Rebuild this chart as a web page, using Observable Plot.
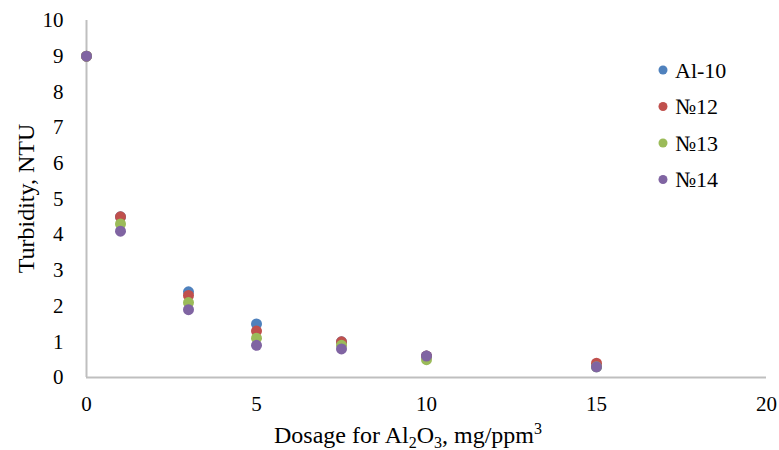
<!DOCTYPE html>
<html>
<head>
<meta charset="utf-8">
<script src="https://cdn.jsdelivr.net/npm/d3@7"></script>
<script src="https://cdn.jsdelivr.net/npm/@observablehq/plot@0.6"></script>
<style>
  html, body { margin: 0; padding: 0; background: #fff; }
  #chart { width: 779px; height: 450px; }
  #chart svg, #chart svg text { font-family: "Liberation Serif", "Times New Roman", serif !important; }
</style>
</head>
<body>
<div id="chart"></div>
<script>
// Coagulant dosage (mg/ppm³) and residual turbidity (NTU) for each sample
const dosage = [0, 1, 3, 5, 7.5, 10, 15];
const al10 = [9, 4.5, 2.4, 1.5, 1.0, 0.6, 0.3];
const n12  = [9, 4.5, 2.3, 1.3, 1.0, 0.6, 0.4];
const n13  = [9, 4.3, 2.1, 1.1, 0.9, 0.5, 0.3];
const n14  = [9, 4.1, 1.9, 0.9, 0.8, 0.6, 0.3];

const seriesNames = ["Al-10", "№12", "№13", "№14"];
const seriesValues = [al10, n12, n13, n14];
const seriesColors = ["#4f81bd", "#c0504d", "#9bbb59", "#8064a2"];

const xTicks = [0, 5, 10, 15, 20];
const yTicks = [0, 1, 2, 3, 4, 5, 6, 7, 8, 9, 10];

const rows = seriesNames.flatMap((name, i) =>
  dosage.map((d, j) => ({ series: name, dose: d, turbidity: seriesValues[i][j] }))
);

const W = 779, H = 450;
const margin = { top: 20, right: 13, bottom: 73, left: 86 };
const serif = "Liberation Serif";
const fs = 21;

const plot = Plot.plot({
  width: W,
  height: H,
  marginTop: margin.top,
  marginRight: margin.right,
  marginBottom: margin.bottom,
  marginLeft: margin.left,
  style: { fontFamily: serif, fontSize: fs + "px", color: "#000", background: "#fff" },
  x: { domain: [0, 20], ticks: xTicks, label: null },
  y: { domain: [0, 10], ticks: yTicks, label: null },
  color: { domain: seriesNames, range: seriesColors },
  marks: [
    Plot.axisX({ ticks: xTicks, tickSize: 0, tickPadding: 19, fontSize: fs, fontFamily: serif, fill: "#000", label: null }),
    Plot.axisY({ ticks: yTicks, tickSize: 0, tickPadding: 23, fontSize: fs, fontFamily: serif, fill: "#000", label: null }),
    Plot.ruleX([0], { stroke: "#bfbfbf", strokeWidth: 2 }),
    Plot.ruleY([0], { stroke: "#bfbfbf", strokeWidth: 2 }),
    Plot.dot(rows, { x: "dose", y: "turbidity", fill: "series", r: 5.5, stroke: "none" })
  ]
});

document.getElementById("chart").appendChild(plot);

// Axis titles and legend drawn into the same SVG
const svg = d3.select(plot);

svg.append("text")
  .attr("transform", `translate(34, ${(margin.top + H - margin.bottom) / 2}) rotate(-90)`)
  .attr("text-anchor", "middle")
  .attr("font-size", 24)
  .attr("fill", "#000")
  .text("Turbidity, NTU");

const xTitle = svg.append("text")
  .attr("x", 408)
  .attr("y", 443)
  .attr("text-anchor", "middle")
  .attr("font-size", 24)
  .attr("fill", "#000");
xTitle.append("tspan").text("Dosage for Al");
xTitle.append("tspan").attr("font-size", 16).attr("dy", 5).text("2");
xTitle.append("tspan").attr("dy", -5).text("O");
xTitle.append("tspan").attr("font-size", 16).attr("dy", 5).text("3");
xTitle.append("tspan").attr("dy", -5).text(", mg/ppm");
xTitle.append("tspan").attr("font-size", 16).attr("dy", -9).text("3");

const legend = svg.append("g").attr("transform", "translate(663, 70)");
seriesNames.forEach((name, i) => {
  const g = legend.append("g").attr("transform", `translate(0, ${i * 36.5})`);
  g.append("circle").attr("r", 4.5).attr("fill", seriesColors[i]);
  g.append("text")
    .attr("x", 12)
    .attr("dy", "0.35em")
    .attr("text-anchor", "start")
    .attr("font-size", 22)
    .attr("fill", "#000")
    .text(name);
});
</script>
</body>
</html>
